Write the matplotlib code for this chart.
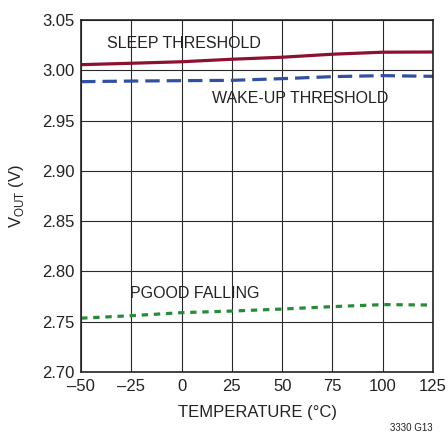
import matplotlib
matplotlib.use("Agg")
import matplotlib.pyplot as plt

plt.rcParams["font.family"] = ["Liberation Sans", "DejaVu Sans"]
plt.rcParams["mathtext.fontset"] = "custom"
plt.rcParams["mathtext.rm"] = "Liberation Sans"

temp = [-50, -25, 0, 25, 50, 75, 100, 125]
sleep = [3.0056, 3.0070, 3.0085, 3.0110, 3.0130, 3.0160, 3.0180, 3.0182]
wakeup = [2.9887, 2.9893, 2.9897, 2.9900, 2.9917, 2.9937, 2.9947, 2.9940]
pgood = [2.7535, 2.7560, 2.7590, 2.7606, 2.7626, 2.7650, 2.7670, 2.7666]

xticks = [-50, -25, 0, 25, 50, 75, 100, 125]
xticklabels = ["\u201350", "\u201325", "0", "25", "50", "75", "100", "125"]
yticks = [2.70, 2.75, 2.80, 2.85, 2.90, 2.95, 3.00, 3.05]

fig = plt.figure(figsize=(4.48, 4.38), dpi=100)
ax = fig.add_axes([0.181, 0.1507, 0.7855, 0.8036])

ax.plot(temp, sleep, color="#8c1030", lw=2.3, solid_capstyle="butt")
ax.plot(temp, wakeup, color="#3350a0", lw=2.3, dashes=(4.5, 2.2))
ax.plot(temp, pgood, color="#2a8a3c", lw=2.3, dashes=(2.0, 1.8))

ax.set_xlim(-50, 125)
ax.set_ylim(2.70, 3.05)
ax.set_xticks(xticks)
ax.set_xticklabels(xticklabels)
ax.set_yticks(yticks)
ax.set_yticklabels([f"{v:.2f}" for v in yticks])
ax.tick_params(length=0, labelsize=12, pad=5, colors="#222222")
ax.grid(True, color="#2a2a2a", lw=0.8)
ax.set_axisbelow(True)
for s in ax.spines.values():
    s.set_linewidth(1.2)
    s.set_color("#222222")

ax.set_xlabel("TEMPERATURE (\u00b0C)", fontsize=12, color="#222222", labelpad=8)
ax.set_ylabel("V$_{\\mathrm{OUT}}$ (V)", fontsize=12, color="#222222", labelpad=11)

ax.text(-37.2, 3.0268, "SLEEP THRESHOLD", fontsize=11.5, color="#222222", va="center")
ax.text(15.0, 2.9715, "WAKE-UP THRESHOLD", fontsize=11.5, color="#222222", va="center")
ax.text(-25.6, 2.7776, "PGOOD FALLING", fontsize=11.5, color="#222222", va="center")

fig.text(0.966, 0.012, "3330 G13", fontsize=7, ha="right", va="bottom", color="#222222")

fig.savefig("out.png", dpi=100)
